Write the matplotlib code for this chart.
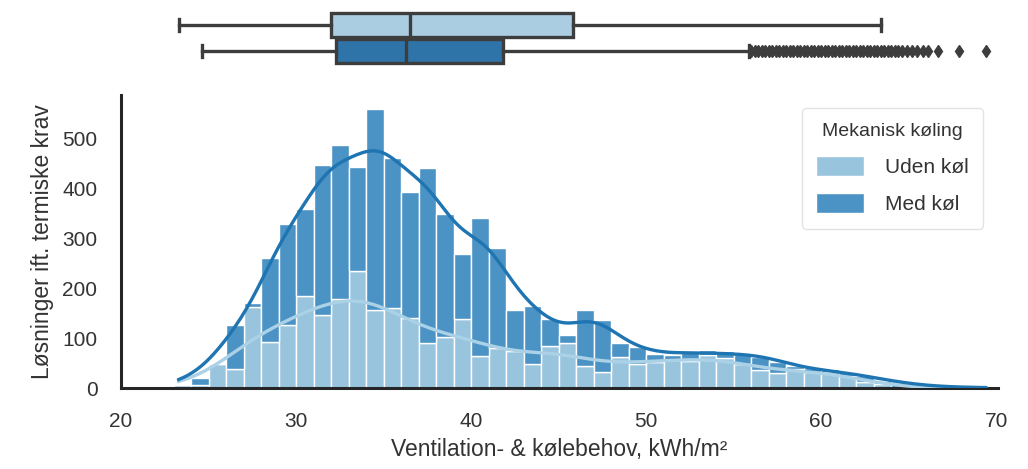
"""
Stacked histogram of ventilation- & cooling demand with marginal boxplots.
"""
import matplotlib

matplotlib.use("Agg")
import matplotlib.pyplot as plt
import numpy as np
from matplotlib.patches import Patch

plt.rcParams["font.family"] = ["Liberation Sans", "DejaVu Sans"]

# ── data ───────────────────────────────────────────────────────────
BIN_LEFT = [23, 24, 25, 26, 27, 28, 29, 30, 31, 32, 33, 34, 35, 36, 37, 38,
            39, 40, 41, 42, 43, 44, 45, 46, 47, 48, 49, 50, 51, 52, 53, 54,
            55, 56, 57, 58, 59, 60, 61, 62, 63, 64, 65, 66, 67, 68, 69]
BIN_WIDTH = 1.0
UDEN_COUNTS = [7, 7, 49, 39, 163, 92, 127, 184, 146, 179, 234, 156, 161, 141,
               90, 103, 138, 65, 80, 75, 49, 85, 91, 45, 32, 62, 49, 52, 57,
               55, 67, 60, 49, 37, 30, 38, 33, 33, 24, 13, 8, 0, 0, 0, 0, 0, 0]
MED_COUNTS = [0, 13, 0, 87, 8, 168, 202, 175, 302, 309, 210, 404, 300, 253,
              351, 246, 130, 277, 201, 82, 116, 54, 15, 112, 104, 28, 33, 16,
              9, 19, 9, 15, 20, 25, 23, 6, 7, 5, 8, 11, 7, 8, 5, 3, 2, 1, 1]

LABELS = ["Uden køl", "Med køl"]
LEGEND_TITLE = "Mekanisk køling"

# box statistics (whislo, q1, median, q3, whishi)
UDEN_BOX = [23.3, 32.0, 36.5, 45.8, 63.4]
MED_BOX = [24.6, 32.3, 36.3, 41.8, 55.9]
MED_FLIERS = [56.0, 56.2, 56.4, 56.6, 56.8, 57.0, 57.2, 57.4, 57.6, 57.8,
              58.0, 58.2, 58.4, 58.6, 58.8, 59.0, 59.2, 59.4, 59.6, 59.8,
              60.0, 60.2, 60.4, 60.6, 60.8, 61.0, 61.2, 61.4, 61.6, 61.8,
              62.0, 62.2, 62.4, 62.6, 62.8, 63.0, 63.2, 63.4, 63.6, 63.8,
              64.0, 64.2, 64.4, 64.6, 64.9, 65.2, 65.5, 65.8, 66.1, 66.7,
              67.9, 69.4]

X_TICKS = [20, 30, 40, 50, 60, 70]
Y_TICKS = [0, 100, 200, 300, 400, 500]

LIGHT_BAR = "#98c4de"
DARK_BAR = "#4b93c5"
LIGHT_LINE = "#abd1e7"
DARK_LINE = "#1f74b2"
BOX_LIGHT = "#abcde2"
BOX_DARK = "#2f74a8"
GRAY = "#3d3d3d"
TEXT = "#333333"


def kde_counts(centers, counts, grid, adjust=1.0):
    """Gaussian KDE of binned counts (Scott bandwidth), scaled to counts per bin."""
    w = np.asarray(counts, dtype=float)
    n = w.sum()
    mean = np.sum(w * centers) / n
    sd = np.sqrt(np.sum(w * (centers - mean) ** 2) / n)
    bw = adjust * sd * n ** (-1 / 5)
    z = (grid[:, None] - centers[None, :]) / bw
    dens = np.exp(-0.5 * z**2).dot(w) / (bw * np.sqrt(2 * np.pi))
    return dens * BIN_WIDTH


def main():
    left = np.array(BIN_LEFT, dtype=float)
    centers = left + BIN_WIDTH / 2
    uden = np.array(UDEN_COUNTS)
    med = np.array(MED_COUNTS)

    fig = plt.figure(figsize=(10.28, 4.69), dpi=100)
    ax = fig.add_axes([0.1177, 0.1727, 0.8531, 0.6247])
    ax_box = fig.add_axes([0.1177, 0.851, 0.8531, 0.138], sharex=ax)

    # ── stacked histogram ──
    ax.bar(left, uden, width=BIN_WIDTH, align="edge", color=LIGHT_BAR,
           edgecolor="white", linewidth=1.0, zorder=2)
    ax.bar(left, med, width=BIN_WIDTH, align="edge", bottom=uden, color=DARK_BAR,
           edgecolor="white", linewidth=1.0, zorder=2)

    # ── stacked KDE curves ──
    grid = np.linspace(UDEN_BOX[0], MED_FLIERS[-1], 300)
    k_uden = kde_counts(centers, uden, grid)
    k_med = kde_counts(centers, med, grid)
    ax.plot(grid, k_uden, color=LIGHT_LINE, linewidth=2.4, zorder=3)
    ax.plot(grid, k_uden + k_med, color=DARK_LINE, linewidth=2.4, zorder=3)

    ax.set_xlim(20, 70.1)
    ax.set_ylim(0, 588)
    ax.set_xticks(X_TICKS)
    ax.set_yticks(Y_TICKS)
    ax.tick_params(length=0, labelsize=15, labelcolor=TEXT, pad=17)
    for side in ("top", "right"):
        ax.spines[side].set_visible(False)
    for side in ("left", "bottom"):
        ax.spines[side].set_linewidth(2.2)
        ax.spines[side].set_color("#262626")
    ax.set_xlabel("Ventilation- & kølebehov, kWh/m²", fontsize=16.5, color=TEXT,
                  labelpad=5)
    ax.set_ylabel("Løsninger ift. termiske krav", fontsize=16.5, color=TEXT,
                  labelpad=6)

    handles = [Patch(facecolor=LIGHT_BAR, edgecolor="white"),
               Patch(facecolor=DARK_BAR, edgecolor="white")]
    leg = ax.legend(handles, LABELS, title=LEGEND_TITLE, loc="upper right",
                    bbox_to_anchor=(0.995, 0.99), fontsize=15, title_fontsize=14,
                    handlelength=2.3, handleheight=1.15, handletextpad=1.0,
                    borderpad=0.7, labelspacing=0.75, frameon=True)
    leg.get_frame().set_edgecolor("#dddddd")
    for t in leg.get_texts():
        t.set_color(TEXT)
    leg.get_title().set_color(TEXT)

    # ── marginal boxplots ──
    stats = []
    for vals, fl, lab in [(UDEN_BOX, [], LABELS[0]), (MED_BOX, MED_FLIERS, LABELS[1])]:
        stats.append(dict(whislo=vals[0], q1=vals[1], med=vals[2], q3=vals[3],
                          whishi=vals[4], fliers=fl, label=lab))
    bp = ax_box.bxp(stats, positions=[0, 1], widths=0.92, orientation="horizontal",
                    patch_artist=True, showfliers=True,
                    boxprops=dict(linewidth=2.4, edgecolor=GRAY),
                    medianprops=dict(color=GRAY, linewidth=2.4),
                    whiskerprops=dict(color=GRAY, linewidth=2.4),
                    capprops=dict(color=GRAY, linewidth=2.4),
                    flierprops=dict(marker="d", markersize=6, markerfacecolor=GRAY,
                                    markeredgecolor=GRAY, linestyle="none"))
    for patch, col in zip(bp["boxes"], [BOX_LIGHT, BOX_DARK]):
        patch.set_facecolor(col)
    ax_box.set_ylim(1.73, -0.77)
    ax_box.axis("off")

    fig.savefig("out.png", dpi=100)


if __name__ == "__main__":
    main()
